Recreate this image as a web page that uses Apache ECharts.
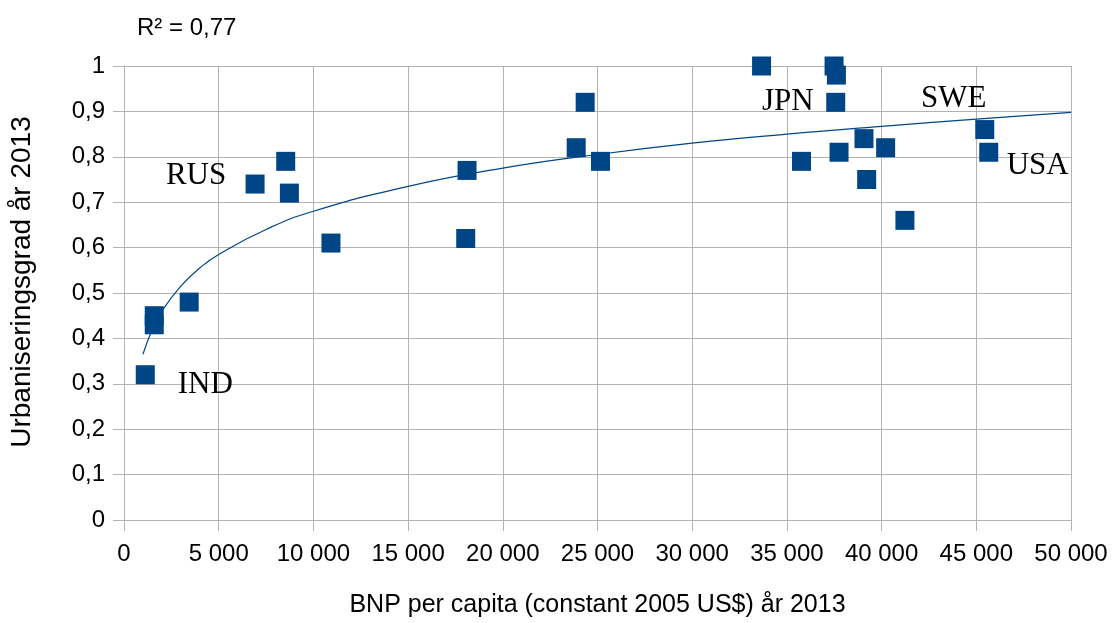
<!DOCTYPE html>
<html>
<head>
<meta charset="utf-8">
<script src="https://cdn.jsdelivr.net/npm/echarts@6/dist/echarts.min.js"></script>
<style>html,body{margin:0;padding:0;background:#fff}#c{width:1113px;height:623px}</style>
</head>
<body>
<div id="c"></div>
<script>
// GDP per capita (constant 2005 US$) 2013
const gdp = [1123, 1597, 1597, 3442, 6921, 8538, 8732, 10927, 18042, 18112, 23875, 24349, 25157,
  33662, 35770, 37490, 37614, 37578, 37753, 39070, 39212, 40213, 41231, 45446, 45657];
// Urbanisation rate 2013
const urban = [0.32, 0.45, 0.43, 0.48, 0.74, 0.79, 0.72, 0.61, 0.62, 0.77, 0.82, 0.92, 0.79,
  1.00, 0.79, 1.00, 0.98, 0.92, 0.81, 0.84, 0.75, 0.82, 0.66, 0.86, 0.81];
// Country labels shown on selected points
const names = ['IND', '', '', '', 'RUS', '', '', '', '', '', '', '', '',
  '', '', '', '', 'JPN', '', '', '', '', '', 'SWE', 'USA'];
// Logarithmic trend line
const trendX = [1000, 1500, 2000, 3000, 4000, 5000, 7500, 10000, 15000, 20000, 25000, 30000, 35000, 40000, 45000, 50000];
const trendY = [0.365, 0.42, 0.46, 0.515, 0.555, 0.585, 0.64, 0.68, 0.735, 0.775, 0.805, 0.83, 0.85, 0.867, 0.883, 0.898];
const r2Text = 'R² = 0,77';
const xTitle = 'BNP per capita (constant 2005 US$) år 2013';
const yTitle = 'Urbaniseringsgrad år 2013';

const labelOffsets = {IND: [60, 10], RUS: [-59, -8], JPN: [-48, 0], SWE: [-31, -31], USA: [49, 14]};

const scatterData = gdp.map((g, i) => {
  const d = {value: [g, urban[i]]};
  if (names[i]) {
    d.label = {
      show: true, formatter: names[i], position: 'inside',
      offset: labelOffsets[names[i]],
      fontFamily: 'Liberation Serif', fontSize: 31, color: '#000'
    };
  }
  return d;
});

const chart = echarts.init(document.getElementById('c'), null, {renderer: 'canvas'});
const gridColor = '#b3b3b3';
const sans = 'Liberation Sans';
chart.setOption({
  animation: false,
  backgroundColor: '#fff',
  grid: {left: 122, right: 42, top: 66, bottom: 100, containLabel: false},
  graphic: [{
    type: 'text', left: 137, top: 16,
    style: {text: r2Text, font: '24px "Liberation Sans"', fill: '#000'}
  }],
  xAxis: {
    type: 'value', min: 0, max: 50000, interval: 5000,
    name: xTitle, nameLocation: 'middle', nameGap: 73,
    nameTextStyle: {fontFamily: sans, fontSize: 25, color: '#000'},
    axisLine: {show: true, lineStyle: {color: gridColor, width: 1}},
    axisTick: {show: true, length: 11, lineStyle: {color: gridColor}},
    axisLabel: {
      margin: 22, fontFamily: sans, fontSize: 24, color: '#000',
      formatter: v => String(v).replace(/\B(?=(\d{3})+(?!\d))/g, ' ')
    },
    splitLine: {show: true, lineStyle: {color: gridColor, width: 1}}
  },
  yAxis: {
    type: 'value', min: 0, max: 1, interval: 0.1,
    name: yTitle, nameLocation: 'middle', nameGap: 88, nameRotate: 90,
    nameTextStyle: {fontFamily: sans, fontSize: 28, color: '#000', padding: [0, 0, 0, 22]},
    axisLine: {show: true, lineStyle: {color: gridColor, width: 1}},
    axisTick: {show: true, length: 11, lineStyle: {color: gridColor}},
    axisLabel: {
      margin: 19, fontFamily: sans, fontSize: 24, color: '#000',
      formatter: v => (Math.round(v * 10) / 10).toString().replace('.', ',')
    },
    splitLine: {show: true, lineStyle: {color: gridColor, width: 1}}
  },
  series: [
    {
      type: 'line', smooth: true, showSymbol: false, symbol: 'none', z: 2,
      data: trendX.map((x, i) => [x, trendY[i]]),
      lineStyle: {color: '#004586', width: 1.2}
    },
    {
      type: 'scatter', symbol: 'rect', symbolSize: 19, z: 3,
      itemStyle: {color: '#004586', opacity: 1},
      data: scatterData
    }
  ]
});
</script>
</body>
</html>
